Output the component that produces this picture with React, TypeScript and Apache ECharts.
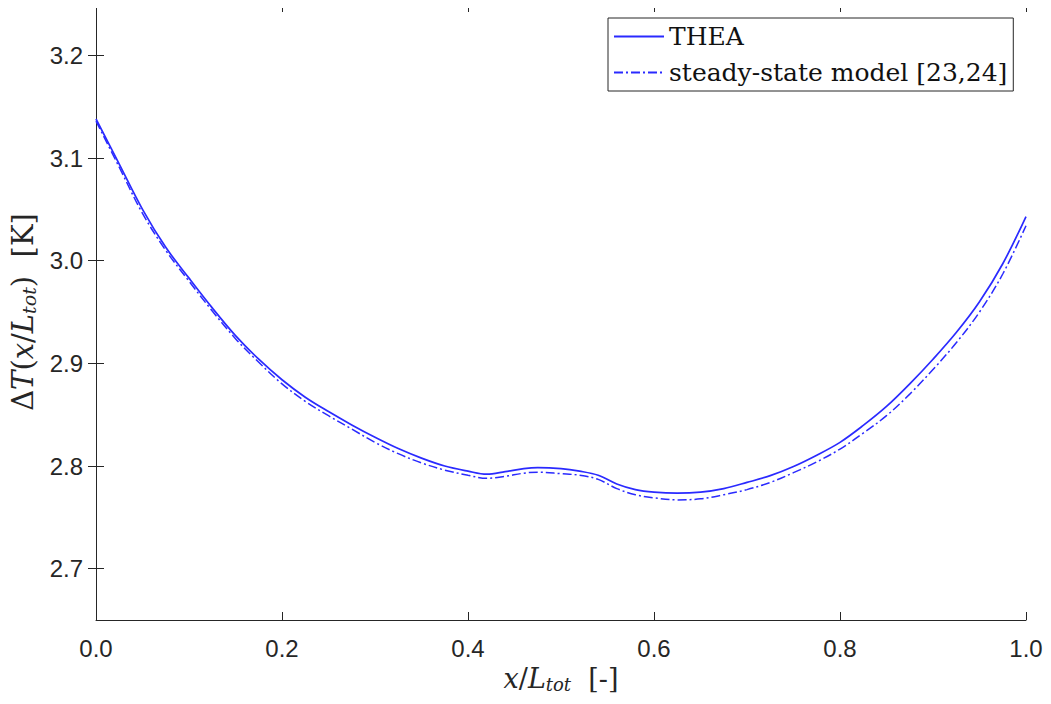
import React, { useEffect, useRef } from "react";
import * as echarts from "echarts";

const xPos = [0, 0.025, 0.05, 0.075, 0.1, 0.125, 0.15, 0.175, 0.2, 0.225, 0.25, 0.275, 0.3, 0.325, 0.35, 0.375, 0.4, 0.42, 0.44, 0.46, 0.475, 0.5, 0.52, 0.54, 0.56, 0.58, 0.6, 0.625, 0.65, 0.675, 0.7, 0.725, 0.75, 0.775, 0.8, 0.825, 0.85, 0.875, 0.9, 0.925, 0.95, 0.975, 1.0];

const thea = [3.138, 3.094, 3.05, 3.013, 2.983, 2.954, 2.927, 2.904, 2.884, 2.867, 2.853, 2.84, 2.828, 2.817, 2.8077, 2.8, 2.795, 2.792, 2.7945, 2.7975, 2.7985, 2.7975, 2.795, 2.791, 2.7825, 2.777, 2.7745, 2.7735, 2.7745, 2.778, 2.784, 2.7906, 2.7995, 2.8105, 2.823, 2.8395, 2.858, 2.88, 2.904, 2.93, 2.96, 2.997, 3.043];

const steady = [3.136, 3.091, 3.046, 3.01, 2.98, 2.951, 2.924, 2.901, 2.88, 2.863, 2.849, 2.836, 2.823, 2.812, 2.803, 2.796, 2.791, 2.788, 2.79, 2.793, 2.794, 2.7925, 2.791, 2.787, 2.778, 2.772, 2.769, 2.767, 2.768, 2.772, 2.777, 2.784, 2.7935, 2.804, 2.8165, 2.832, 2.849, 2.87, 2.894, 2.92, 2.95, 2.987, 3.034];

const yTicks = [2.7, 2.8, 2.9, 3.0, 3.1, 3.2];
const seriesNames = ["THEA", "steady-state model [23,24]"];

const AXIS = "#262626";
const BLUE = "#2a2aff";
const SERIF = "'DejaVu Serif', serif";
const SANS = "'Liberation Sans', Arial, sans-serif";

export default function App() {
  const ref = useRef<HTMLDivElement>(null);
  useEffect(() => {
    if (!ref.current) return;
    const chart = echarts.init(ref.current, null, { renderer: "svg" });
    const mk = (ys: number[]) => xPos.map((x, i) => [x, ys[i]]);
    const baseX = {
      type: "value",
      min: 0,
      max: 1,
      interval: 0.2,
      axisLine: { show: true, lineStyle: { color: AXIS, width: 1 } },
      axisTick: { show: true, inside: true, length: 8, lineStyle: { color: AXIS } },
      splitLine: { show: false },
    };
    const baseY = {
      type: "value",
      min: 2.65,
      max: 3.25,
      axisLine: { show: true, lineStyle: { color: AXIS, width: 1 } },
      axisTick: { show: true, inside: true, length: 8, customValues: yTicks, lineStyle: { color: AXIS } },
      splitLine: { show: false },
    };
    const mkRich = (fs: number, ss: number, pad: number) => ({
      n: { fontFamily: SERIF, fontSize: fs, color: AXIS },
      i: { fontFamily: SERIF, fontSize: fs, fontStyle: "italic", color: AXIS },
      s: { fontFamily: SERIF, fontSize: ss, fontStyle: "italic", color: AXIS, verticalAlign: "bottom", padding: [pad, 0, 0, 0] },
    });
    chart.setOption({
      animation: false,
      backgroundColor: "#ffffff",
      grid: { left: 96, right: 25, top: 4, bottom: 84 },
      legend: {
        orient: "vertical",
        left: 608,
        top: 18,
        padding: [6, 6, 6, 5],
        itemWidth: 50,
        itemHeight: 26,
        itemGap: 11,
        backgroundColor: "#ffffff",
        borderColor: AXIS,
        borderWidth: 1,
        borderRadius: 0,
        itemStyle: { opacity: 0 },
        textStyle: { fontFamily: SERIF, fontSize: 25, color: "#111111" },
        data: seriesNames,
      },
      xAxis: [
        {
          ...baseX,
          position: "bottom",
          name: "{i|x}{n|/}{i|L}{s|tot}{n|  [-]}",
          nameLocation: "middle",
          nameGap: 44,
          nameTextStyle: { rich: mkRich(27, 18, 11) },
          axisLabel: {
            show: true,
            margin: 16,
            fontFamily: SANS,
            fontSize: 24,
            color: AXIS,
            formatter: (v: number) => v.toFixed(1),
          },
        },
        {
          ...baseX,
          position: "top",
          axisLabel: { show: false },
        },
      ],
      yAxis: [
        {
          ...baseY,
          position: "left",
          name: "{n|Δ}{i|T}{n|(}{i|x}{n|/}{i|L}{s|tot}{n|)  [K]}",
          nameLocation: "middle",
          nameGap: 57,
          nameRotate: 90,
          nameTextStyle: { rich: mkRich(29, 19, 12) },
          axisLabel: {
            show: true,
            margin: 13,
            fontFamily: SANS,
            fontSize: 24,
            color: AXIS,
            customValues: yTicks,
            formatter: (v: number) => v.toFixed(1),
          },
        },
        {
          ...baseY,
          position: "right",
          axisLabel: { show: false },
        },
      ],
      series: [
        {
          name: seriesNames[0],
          type: "line",
          xAxisIndex: 0,
          yAxisIndex: 0,
          data: mk(thea),
          symbol: "none",
          smooth: 0.35,
          lineStyle: { color: BLUE, width: 1.7, type: "solid" },
          itemStyle: { color: BLUE },
        },
        {
          name: seriesNames[1],
          type: "line",
          xAxisIndex: 0,
          yAxisIndex: 0,
          data: mk(steady),
          symbol: "none",
          smooth: 0.35,
          lineStyle: { color: BLUE, width: 1.5, type: [9, 3, 2, 3] },
          itemStyle: { color: BLUE },
        },
      ],
    });
    return () => chart.dispose();
  }, []);
  return <div ref={ref} style={{ width: 1051, height: 704, margin: -8 }} />;
}
